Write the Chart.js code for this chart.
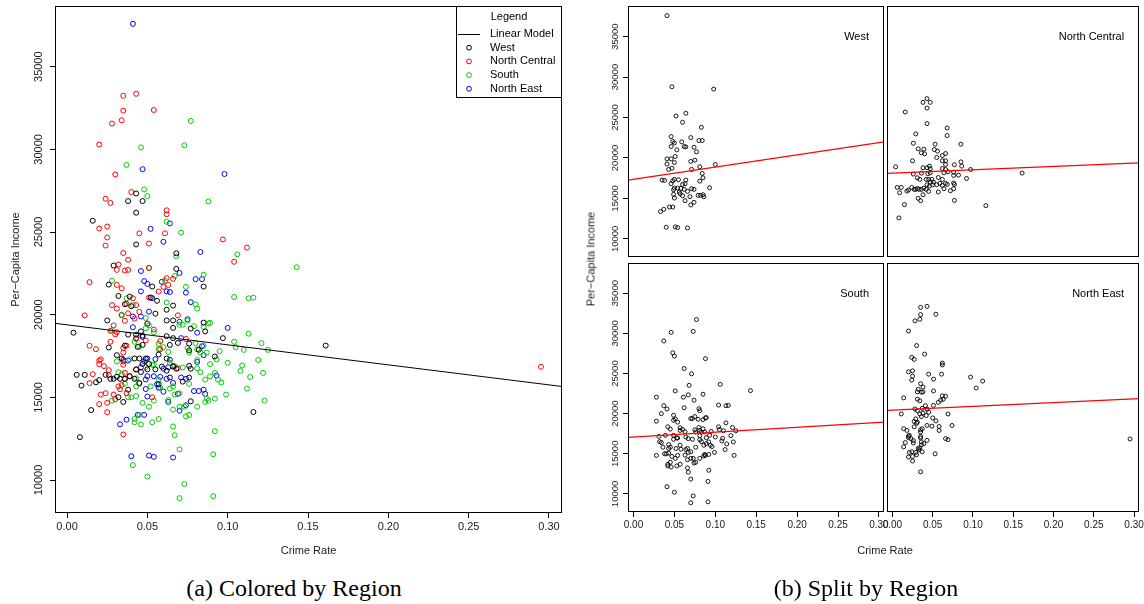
<!DOCTYPE html>
<html>
<head>
<meta charset="utf-8">
<script src="https://cdn.jsdelivr.net/npm/chart.js@4.4.0/dist/chart.umd.min.js"></script>
<style>
  html, body { margin: 0; padding: 0; background: #fff; }
  #page { position: relative; width: 1144px; height: 604px; overflow: hidden; background: #fff; }
  canvas { position: absolute; }
  .cap { position: absolute; font-family: "Liberation Serif", "DejaVu Serif", serif; font-size: 24px;
         line-height: 24px; color: #000; white-space: nowrap; transform: translateX(-50%); }
  .lab { position: absolute; font-family: "Liberation Sans", Arial, sans-serif; font-size: 11px;
         line-height: 13px; color: #1a1a1a; white-space: nowrap; transform: translate(-50%, -50%); }
</style>
</head>
<body>
<div id="page">
  <canvas id="cLeft" width="572" height="565" style="left:0;top:0"></canvas>
  <canvas id="cF0" width="340" height="262" style="left:560px;top:0"></canvas>
  <canvas id="cF1" width="274" height="262" style="left:870px;top:0"></canvas>
  <canvas id="cF2" width="340" height="300" style="left:560px;top:258px"></canvas>
  <canvas id="cF3" width="274" height="300" style="left:870px;top:258px"></canvas>
  <div class="lab" style="left:591px;top:259px;transform:translate(-50%,-50%) rotate(-90deg)">Per&#8722;Capita Income</div>
  <div class="lab" style="left:885px;top:550px">Crime Rate</div>
  <div class="cap" style="left:294px;top:576px">(a) Colored by Region</div>
  <div class="cap" style="left:866px;top:576px">(b) Split by Region</div>
</div>
<script>
// ---- data: [crime rate, per-capita income] per region ----
const west = [
  [0.004,18910],[0.006,16360],[0.011,16360],[0.009,15710],[0.015,14230],[0.008,12590],[0.016,25680],
  [0.018,15910],[0.020,16040],[0.024,16360],[0.027,16120],[0.025,19650],[0.029,22970],[0.026,21820],
  [0.026,18010],[0.032,21130],[0.036,20630],[0.039,21090],[0.040,20510],[0.038,26870],[0.043,27330],
  [0.047,26870],[0.043,26170],[0.043,24250],[0.038,18790],[0.036,18130],[0.031,17550],[0.034,17350],
  [0.031,16240],[0.033,16120],[0.029,16120],[0.036,16120],[0.039,16280],[0.032,15010],[0.035,14720],
  [0.038,15460],[0.043,18790],[0.046,18990],[0.047,18660],[0.044,18050],[0.047,18170],[0.042,17350],
  [0.045,17350],[0.049,17350],[0.047,17020],[0.051,17020],[0.043,16690],[0.046,16530],[0.050,16690],
  [0.045,15870],[0.042,16120],[0.055,16690],[0.053,21700],[0.052,21040],[0.056,20840],[0.055,20060],
  [0.062,20300],[0.066,20550],[0.062,19650],[0.066,19650],[0.066,19200],[0.068,23710],[0.068,22770],
  [0.062,18700],[0.066,18580],[0.069,18290],[0.064,18170],[0.057,17590],[0.062,17350],[0.059,16860],
  [0.062,16610],[0.066,16860],[0.068,16730],[0.057,15790],[0.064,16200],[0.072,15950],[0.076,16200],
  [0.076,16900],[0.077,16730],[0.076,17840],[0.082,17880],[0.076,18250],[0.077,19160],[0.085,19520],
  [0.086,18990],[0.085,21700],[0.092,17470],[0.097,18580],[0.077,14760],[0.116,14110],[0.161,18130]
];
const northCentral = [
  [0.011,19960],[0.014,21970],[0.020,30290],[0.014,18120],[0.018,17910],[0.020,17220],[0.020,17010],
  [0.021,17300],[0.023,16890],[0.014,15860],[0.016,16400],[0.020,14590],[0.021,15170],[0.024,15250],
  [0.025,14670],[0.025,14100],[0.026,16350],[0.026,16640],[0.020,25210],[0.024,27010],[0.027,26760],
  [0.025,24670],[0.024,24180],[0.025,25330],[0.028,31560],[0.030,28480],[0.034,31760],[0.035,32340],
  [0.035,33240],[0.043,33360],[0.054,32380],[0.040,27420],[0.031,21800],[0.034,21600],[0.031,22710],
  [0.032,23030],[0.035,23730],[0.038,23320],[0.036,22670],[0.038,22710],[0.028,20580],[0.031,20370],
  [0.029,19350],[0.027,19020],[0.030,18810],[0.031,18940],[0.027,18360],[0.034,19960],[0.036,19630],
  [0.038,20080],[0.037,20660],[0.041,20990],[0.043,20580],[0.042,19760],[0.035,17990],[0.037,18120],
  [0.035,17710],[0.035,17170],[0.035,16970],[0.036,16480],[0.039,16270],[0.036,16110],[0.032,15660],
  [0.033,15490],[0.034,15740],[0.037,15250],[0.030,14880],[0.029,15170],[0.035,12750],[0.043,16680],
  [0.043,18530],[0.045,20170],[0.045,24920],[0.051,24300],[0.051,22830],[0.051,21030],[0.050,19470],
  [0.054,19100],[0.049,18440],[0.053,15000],[0.057,21400],[0.060,21680],[0.058,18400],[0.058,17910],
  [0.062,26310],[0.062,26070],[0.061,24920],[0.062,22210],[0.066,22170],[0.063,21800],[0.069,19960],
  [0.066,16890],[0.069,16760],[0.074,18530],[0.097,24550],[0.112,24060],[0.104,23200],[0.295,16850]
];
const south = [
  [0.028,22050],[0.028,19060],[0.028,14800],[0.037,29060],[0.046,30120],[0.048,27580],[0.050,27170],
  [0.051,22830],[0.037,20990],[0.034,20000],[0.041,20580],[0.031,17170],[0.032,16520],[0.034,16400],
  [0.036,15820],[0.039,17300],[0.042,18360],[0.038,15000],[0.040,15000],[0.043,16150],[0.043,15660],
  [0.045,15820],[0.043,15080],[0.045,18080],[0.042,13690],[0.045,13940],[0.042,13490],[0.046,13360],
  [0.047,14670],[0.049,19800],[0.049,19180],[0.051,19350],[0.049,17300],[0.049,16810],[0.051,14430],
  [0.054,14800],[0.053,13490],[0.054,18940],[0.053,16970],[0.054,16970],[0.052,15660],[0.058,15580],
  [0.057,18240],[0.057,17910],[0.057,16070],[0.057,13690],[0.062,25620],[0.062,20740],[0.061,22050],
  [0.060,18030],[0.063,17750],[0.064,17090],[0.064,15530],[0.066,15660],[0.063,14840],[0.066,14260],
  [0.066,13240],[0.067,22340],[0.068,23530],[0.067,16890],[0.067,15170],[0.070,15250],[0.067,12710],
  [0.070,11850],[0.071,24960],[0.070,19390],[0.072,19390],[0.074,21680],[0.073,30250],[0.077,31720],
  [0.070,14430],[0.073,14430],[0.072,16810],[0.075,17990],[0.076,17710],[0.076,15820],[0.076,13940],
  [0.074,13850],[0.075,19630],[0.079,19300],[0.080,18280],[0.081,17910],[0.080,20620],[0.081,20370],
  [0.081,17260],[0.081,16760],[0.083,16520],[0.083,17710],[0.085,18120],[0.087,17710],[0.081,14430],
  [0.085,22420],[0.088,26850],[0.085,19260],[0.088,19470],[0.089,19510],[0.086,16070],[0.089,16270],
  [0.087,14920],[0.088,14800],[0.086,14720],[0.092,14920],[0.089,17010],[0.092,16480],[0.093,17300],
  [0.092,12950],[0.091,11560],[0.073,9760],[0.070,8900],[0.091,9020],[0.050,10210],[0.041,10900],
  [0.094,16070],[0.096,15900],[0.099,15170],[0.095,17790],[0.100,17090],[0.104,18360],[0.105,18030],
  [0.109,16930],[0.108,16600],[0.106,23650],[0.104,21070],[0.113,20990],[0.116,21030],[0.113,18850],
  [0.110,17870],[0.114,16230],[0.112,15530],[0.119,17260],[0.121,18280],[0.125,17870],[0.122,16480],
  [0.123,14800],[0.143,22870]
];
const northEast = [
  [0.041,37590],[0.047,28800],[0.098,28510],[0.052,25190],[0.064,25520],[0.060,24410],[0.083,23790],
  [0.046,22640],[0.048,22030],[0.050,21860],[0.046,21410],[0.059,21990],[0.062,21410],[0.064,21370],
  [0.070,22520],[0.074,21330],[0.080,22150],[0.084,22150],[0.053,21000],[0.077,20760],[0.051,20180],
  [0.041,19890],[0.046,19890],[0.050,19440],[0.041,19240],[0.075,19730],[0.070,19570],[0.100,19200],
  [0.081,18910],[0.043,18580],[0.047,18740],[0.071,18580],[0.084,18090],[0.035,17270],[0.038,17230],
  [0.048,17180],[0.050,17350],[0.055,17310],[0.064,17270],[0.085,17550],[0.081,17140],[0.046,16820],
  [0.060,16730],[0.063,16820],[0.050,16280],[0.049,16080],[0.054,16280],[0.058,16240],[0.062,16120],
  [0.066,15870],[0.071,16200],[0.074,16120],[0.093,16320],[0.056,15790],[0.057,15580],[0.049,15500],
  [0.050,15050],[0.060,15340],[0.069,15210],[0.079,15380],[0.082,15380],[0.085,15460],[0.086,15210],
  [0.063,14720],[0.074,14520],[0.070,14190],[0.033,13370],[0.037,13650],[0.044,13940],[0.048,13940],
  [0.040,11440],[0.051,11480],[0.054,11400],[0.066,11360]
];

// legend entries (left panel) and their colours
const regionNames  = ["West", "North Central", "South", "North East"];
const regionData   = [west, northCentral, south, northEast];
const regionColors = ["#000000", "#ff0000", "#00cd00", "#0000ff"];

// fitted lines: income = a + b * crimeRate
const overallFit = { a: 19386, b: -12110 };
const facetTitles = ["West", "North Central", "South", "North East"];
const facetData   = [northEast, west, south, northCentral];
const facetFits   = [{ a: 17366, b: 15093 }, { a: 18115, b: 4189 }, { a: 17091, b: 6026 }, { a: 20442, b: 4702 }];

// tick labels
const xTicks = [0.00, 0.05, 0.10, 0.15, 0.20, 0.25, 0.30];
const yTicks = [10000, 15000, 20000, 25000, 30000, 35000];
const xTitle = "Crime Rate";
const yTitle = "Per\u2212Capita Income";
const legendTitle = "Legend";
const lineLabel = "Linear Model";

// axis limits
const leftX = [-0.0075, 0.3081], leftY = [8004, 38671];
const facetX = [-0.0067, 0.3062], facetY = [7750, 38780];

Chart.defaults.font.family = '"Liberation Sans", Arial, Helvetica, sans-serif';
Chart.defaults.color = '#1a1a1a';

const toPts = arr => arr.map(p => ({ x: p[0], y: p[1] }));
const fitPts = (f, lim) => lim.map(x => ({ x, y: f.a + f.b * x }));

// frame around the plotting region
const boxPlugin = {
  id: 'frame',
  afterDraw(chart) {
    const { ctx, chartArea: a } = chart;
    ctx.save();
    ctx.strokeStyle = '#000';
    ctx.lineWidth = 1;
    ctx.strokeRect(Math.round(a.left) + 0.5, Math.round(a.top) + 0.5,
                   Math.round(a.right - a.left) - 1, Math.round(a.bottom - a.top) - 1);
    ctx.restore();
  }
};

// vertical (rotated) y tick labels
const yLabelPlugin = {
  id: 'yRot',
  afterDraw(chart, args, opts) {
    if (!opts.show) return;
    const s = chart.scales.y, { ctx } = chart;
    ctx.save();
    ctx.font = opts.font;
    ctx.fillStyle = '#1a1a1a';
    ctx.textAlign = 'center';
    ctx.textBaseline = 'middle';
    s.ticks.forEach(t => {
      ctx.save();
      ctx.translate(chart.chartArea.left - opts.offset, s.getPixelForValue(t.value));
      ctx.rotate(-Math.PI / 2);
      ctx.fillText(String(t.value), 0, 0);
      ctx.restore();
    });
    ctx.restore();
  }
};

// panel name in the top-right corner of each facet
const panelTitlePlugin = {
  id: 'panelTitle',
  afterDraw(chart, args, opts) {
    if (!opts.text) return;
    const { ctx, chartArea: a } = chart;
    ctx.save();
    ctx.font = '11px "Liberation Sans", Arial, sans-serif';
    ctx.fillStyle = '#000';
    ctx.textAlign = 'right';
    ctx.textBaseline = 'middle';
    ctx.fillText(opts.text, a.right - 15, a.top + 31);
    ctx.restore();
  }
};

// boxed legend in the top-right corner of the left panel
const legendPlugin = {
  id: 'boxLegend',
  afterDraw(chart) {
    const { ctx, chartArea: a } = chart;
    const w = 106, h = 91;
    const x0 = Math.round(a.right) - w, y0 = Math.round(a.top);
    ctx.save();
    ctx.fillStyle = '#fff';
    ctx.fillRect(x0, y0, w, h);
    ctx.strokeStyle = '#000';
    ctx.lineWidth = 1;
    ctx.strokeRect(x0 + 0.5, y0 + 0.5, w - 1, h);
    ctx.font = '11px "Liberation Sans", Arial, sans-serif';
    ctx.fillStyle = '#000';
    ctx.textBaseline = 'middle';
    ctx.textAlign = 'center';
    ctx.fillText(legendTitle, x0 + w / 2, y0 + 11);
    ctx.textAlign = 'left';
    const rowY = i => y0 + 28 + i * 13.7;
    ctx.strokeStyle = '#000';
    ctx.beginPath();
    ctx.moveTo(x0 + 2, Math.round(rowY(0)) + 0.5);
    ctx.lineTo(x0 + 24, Math.round(rowY(0)) + 0.5);
    ctx.stroke();
    ctx.fillText(lineLabel, x0 + 34, rowY(0));
    regionNames.forEach((n, i) => {
      const y = rowY(i + 1);
      ctx.strokeStyle = regionColors[i];
      ctx.beginPath();
      ctx.arc(x0 + 13, y, 2.4, 0, Math.PI * 2);
      ctx.stroke();
      ctx.fillStyle = '#000';
      ctx.fillText(n, x0 + 34, y);
    });
    ctx.restore();
  }
};

function xAxis(lim, show, fontSize, height, titleShow) {
  return {
    type: 'linear', min: lim[0], max: lim[1], display: show,
    afterBuildTicks: s => { s.ticks = xTicks.map(v => ({ value: v })); },
    ticks: { font: { size: fontSize }, padding: 2, maxRotation: 0, autoSkip: false, color: '#1a1a1a',
             callback: v => Number(v).toFixed(2) },
    grid: { drawOnChartArea: false, drawTicks: true, tickLength: 5, color: '#000' },
    border: { display: false },
    title: { display: titleShow, text: xTitle, font: { size: 11 }, color: '#1a1a1a', padding: { top: 0, bottom: 7 } },
    // fixed band height; tick labels may overhang the frame ends
    afterFit: s => { s.height = height; s.paddingLeft = 0; s.paddingRight = 0; }
  };
}
function yAxis(lim, show, width, titleShow) {
  return {
    type: 'linear', min: lim[0], max: lim[1], display: show,
    afterBuildTicks: s => { s.ticks = yTicks.map(v => ({ value: v })); },
    ticks: { display: false },
    grid: { drawOnChartArea: false, drawTicks: true, tickLength: 5, color: '#000' },
    border: { display: false },
    title: { display: titleShow, text: yTitle, font: { size: 11 }, color: '#1a1a1a', padding: { top: 9, bottom: 0 } },
    afterFit: s => { s.width = width; s.paddingTop = 0; s.paddingBottom = 0; }
  };
}
const basePlugins = { legend: { display: false }, tooltip: { enabled: false } };

// ---- left panel: all regions together ----
const leftSets = [{
  data: fitPts(overallFit, leftX), showLine: true, borderColor: '#000', borderWidth: 1,
  pointRadius: 0, fill: false
}];
regionData.forEach((d, i) => leftSets.push({
  label: regionNames[i], data: toPts(d), showLine: false,
  pointStyle: 'circle', pointRadius: 2.5, borderWidth: 1,
  borderColor: regionColors[i], backgroundColor: 'rgba(0,0,0,0)'
}));

new Chart(document.getElementById('cLeft'), {
  type: 'scatter',
  data: { datasets: leftSets },
  options: {
    responsive: false, animation: false, events: [],
    layout: { padding: { left: 0, top: 6, right: 10, bottom: 0 } },
    scales: { x: xAxis(leftX, true, 11, 52, true), y: yAxis(leftY, true, 55, true) },
    plugins: Object.assign({}, basePlugins, { yRot: { show: true, offset: 16, font: '11px "Liberation Sans", Arial, sans-serif' } })
  },
  plugins: [boxPlugin, yLabelPlugin, legendPlugin]
});

// ---- right panel: one facet per region ----
// canvas page positions and frame boxes (page coordinates)
const facetCanvas = [
  { l: 560, t: 0, w: 340, h: 262 }, { l: 870, t: 0, w: 274, h: 262 },
  { l: 560, t: 258, w: 340, h: 300 }, { l: 870, t: 258, w: 274, h: 300 }
];
const facetBox = [
  { l: 628, t: 6, r: 884, b: 258 }, { l: 887, t: 6, r: 1143, b: 258 },
  { l: 628, t: 260, r: 884, b: 512 }, { l: 887, t: 260, r: 1143, b: 512 }
];

facetTitles.forEach((title, i) => {
  const c = facetCanvas[i], b = facetBox[i];
  const showY = (i % 2 === 0), showX = (i >= 2);
  // hidden axes still reserve their afterFit band, so the band sizes set the frame position
  const pad = { left: 0, top: b.t - c.t, right: c.l + c.w - b.r, bottom: 0 };
  new Chart(document.getElementById('cF' + i), {
    type: 'scatter',
    data: { datasets: [
      { data: fitPts(facetFits[i], facetX), showLine: true, borderColor: '#ff0000', borderWidth: 1.2,
        pointRadius: 0, fill: false },
      { label: title, data: toPts(facetData[i]), showLine: false, pointStyle: 'circle',
        pointRadius: 2, borderWidth: 0.9, borderColor: '#000', backgroundColor: 'rgba(0,0,0,0)' }
    ] },
    options: {
      responsive: false, animation: false, events: [],
      layout: { padding: pad },
      scales: {
        x: xAxis(facetX, showX, 10, c.t + c.h - b.b, false),
        y: yAxis(facetY, showY, b.l - c.l, false)
      },
      plugins: Object.assign({}, basePlugins, {
        yRot: { show: showY, offset: 13, font: '9.5px "Liberation Sans", Arial, sans-serif' },
        panelTitle: { text: title }
      })
    },
    plugins: [boxPlugin, yLabelPlugin, panelTitlePlugin]
  });
});
</script>
</body>
</html>
